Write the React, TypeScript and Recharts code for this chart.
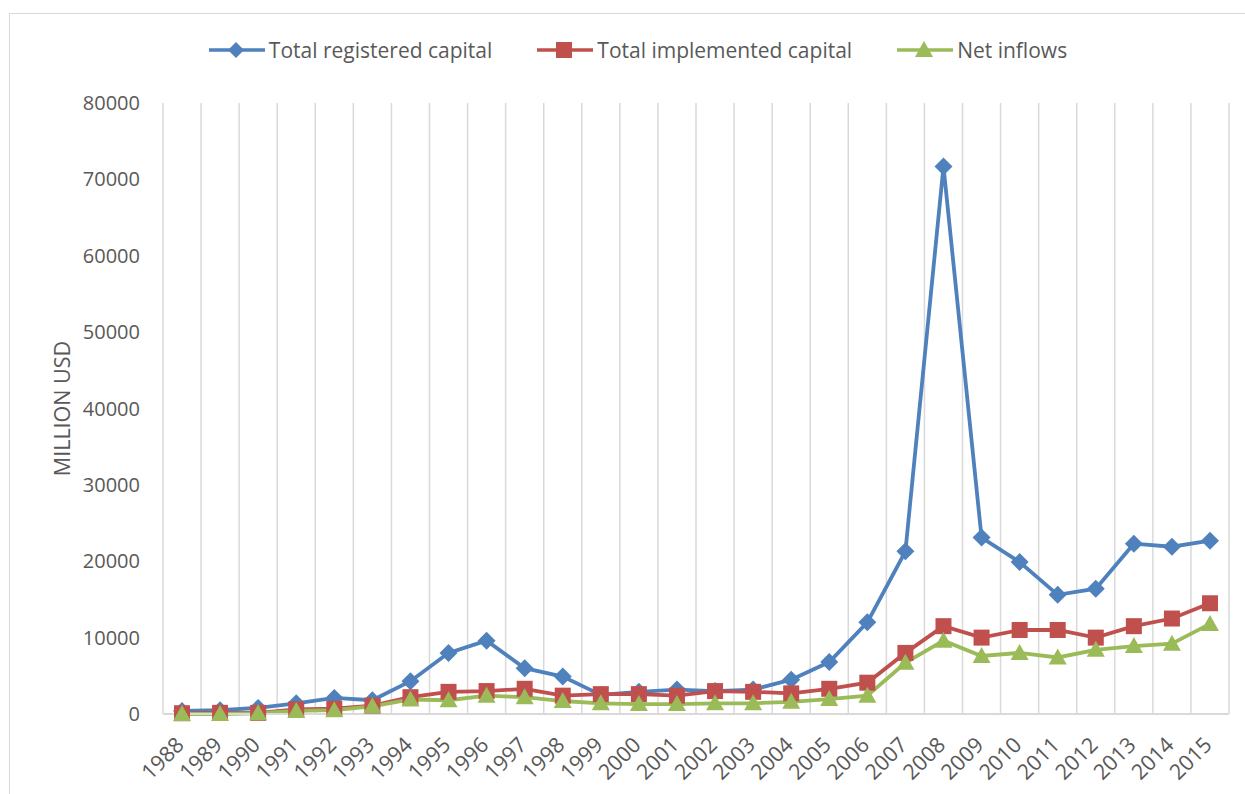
import { LineChart, Line, XAxis, YAxis, CartesianGrid, Label } from "recharts"

const years = [
  1988, 1989, 1990, 1991, 1992, 1993, 1994, 1995, 1996, 1997, 1998, 1999, 2000, 2001,
  2002, 2003, 2004, 2005, 2006, 2007, 2008, 2009, 2010, 2011, 2012, 2013, 2014, 2015,
]

const registered = [
  400, 500, 800, 1400, 2100, 1800, 4300, 8000, 9600, 6000, 4900, 2500, 2900, 3200,
  3000, 3200, 4500, 6800, 12000, 21300, 71700, 23100, 19900, 15600, 16400, 22300, 21900, 22700,
]

const implemented = [
  100, 150, 150, 600, 700, 1100, 2200, 2900, 3000, 3300, 2400, 2600, 2600, 2400,
  3000, 2900, 2700, 3300, 4100, 8000, 11500, 10000, 11000, 11000, 10000, 11500, 12500, 14500,
]

const netInflows = [
  0, 0, 100, 400, 500, 1000, 1900, 1800, 2400, 2200, 1700, 1400, 1300, 1300,
  1400, 1400, 1600, 1950, 2400, 6700, 9600, 7600, 8000, 7400, 8400, 8900, 9200, 11800,
]

const yTicks = [0, 10000, 20000, 30000, 40000, 50000, 60000, 70000, 80000]

const BLUE = "#4F81BD"
const RED = "#C0504D"
const GREEN = "#9BBB59"
const TEXT = "#595959"
const FONT = "'Open Sans', sans-serif"

const data = years.map((y, i) => ({
  year: String(y),
  registered: registered[i],
  implemented: implemented[i],
  net: netInflows[i],
}))

const Diamond = (props: any) => {
  const { cx, cy, fill } = props
  if (cx == null || cy == null) return null
  const r = 9
  return <path d={`M${cx},${cy - r}L${cx + r},${cy}L${cx},${cy + r}L${cx - r},${cy}Z`} fill={fill} />
}

const Square = (props: any) => {
  const { cx, cy, fill } = props
  if (cx == null || cy == null) return null
  const s = 8
  return <rect x={cx - s} y={cy - s} width={s * 2} height={s * 2} fill={fill} />
}

const Triangle = (props: any) => {
  const { cx, cy, fill } = props
  if (cx == null || cy == null) return null
  return <path d={`M${cx},${cy - 9}L${cx + 9},${cy + 7}L${cx - 9},${cy + 7}Z`} fill={fill} />
}

// rotated year labels, right end sits just below-left of the point column
const YearTick = (props: any) => {
  const { x, y, payload } = props
  const ax = x - 2
  const ay = y + 19
  return (
    <text
      x={ax}
      y={ay}
      transform={`rotate(-45 ${ax} ${ay})`}
      textAnchor="end"
      dy="0.35em"
      fill={TEXT}
      fontSize={21.5}
      fontFamily={FONT}
    >
      {payload.value}
    </text>
  )
}

function LegendItem({ color, label, shape }: { color: string; label: string; shape: string }) {
  let marker
  if (shape === "diamond") marker = <path d="M28,3L36,11L28,19L20,11Z" fill={color} />
  else if (shape === "square") marker = <rect x={20} y={3} width={16} height={16} fill={color} />
  else marker = <path d="M28,2L37,18L19,18Z" fill={color} />
  return (
    <div style={{ display: "flex", alignItems: "center" }}>
      <svg width={58} height={22}>
        <line x1={1} y1={11} x2={57} y2={11} stroke={color} strokeWidth={3.5} />
        {marker}
      </svg>
      <span style={{ marginLeft: 3 }}>{label}</span>
    </div>
  )
}

export default function App() {
  return (
    <div
      style={{
        position: "absolute",
        left: 0,
        top: 0,
        width: 1245,
        height: 794,
        overflow: "hidden",
        background: "#fff",
        fontFamily: FONT,
      }}
    >
      <div
        style={{
          position: "absolute",
          left: 9,
          top: 13,
          width: 1260,
          height: 820,
          border: "1.5px solid #D9D9D9",
        }}
      />
      <div
        style={{
          position: "absolute",
          top: 36,
          left: 0,
          width: 1245,
          display: "flex",
          justifyContent: "center",
          gap: 44,
          fontSize: 21,
          lineHeight: "28px",
          color: TEXT,
          paddingLeft: 30,
          boxSizing: "border-box",
        }}
      >
        <LegendItem color={BLUE} label="Total registered capital" shape="diamond" />
        <LegendItem color={RED} label="Total implemented capital" shape="square" />
        <LegendItem color={GREEN} label="Net inflows" shape="triangle" />
      </div>
      <LineChart
        width={1245}
        height={794}
        data={data}
        margin={{ top: 103, right: 16, bottom: 20, left: 83 }}
        style={{ position: "absolute", left: 0, top: 0 }}
      >
        <CartesianGrid
          horizontal={false}
          stroke="#D9D9D9"
          strokeWidth={1.5}
          verticalCoordinatesGenerator={({ offset }: any) =>
            Array.from({ length: years.length + 1 }, (_, i) => offset.left + (i * offset.width) / years.length)
          }
        />
        <XAxis
          dataKey="year"
          height={60}
          padding={{ left: 19, right: 19 }}
          tickLine={false}
          axisLine={{ stroke: "#D9D9D9", strokeWidth: 2 }}
          interval={0}
          tick={<YearTick />}
        />
        <YAxis
          width={80}
          domain={[0, 80000]}
          ticks={yTicks}
          interval={0}
          axisLine={false}
          tickLine={false}
          tickMargin={17}
          tick={{ fill: TEXT, fontSize: 20, fontFamily: FONT }}
        >
          <Label
            content={({ viewBox }: any) => {
              const cx = viewBox.x - 21
              const cy = viewBox.y + viewBox.height / 2
              return (
                <text
                  x={cx}
                  y={cy}
                  transform={`rotate(-90 ${cx} ${cy})`}
                  textAnchor="middle"
                  dy="0.35em"
                  fill={TEXT}
                  fontSize={21.5}
                  fontFamily={FONT}
                >
                  MILLION USD
                </text>
              )
            }}
          />
        </YAxis>
        <Line
          dataKey="registered"
          stroke={BLUE}
          strokeWidth={3.8}
          dot={<Diamond fill={BLUE} />}
          activeDot={false}
          isAnimationActive={false}
        />
        <Line
          dataKey="implemented"
          stroke={RED}
          strokeWidth={3.8}
          dot={<Square fill={RED} />}
          activeDot={false}
          isAnimationActive={false}
        />
        <Line
          dataKey="net"
          stroke={GREEN}
          strokeWidth={3.8}
          dot={<Triangle fill={GREEN} />}
          activeDot={false}
          isAnimationActive={false}
        />
      </LineChart>
    </div>
  )
}
